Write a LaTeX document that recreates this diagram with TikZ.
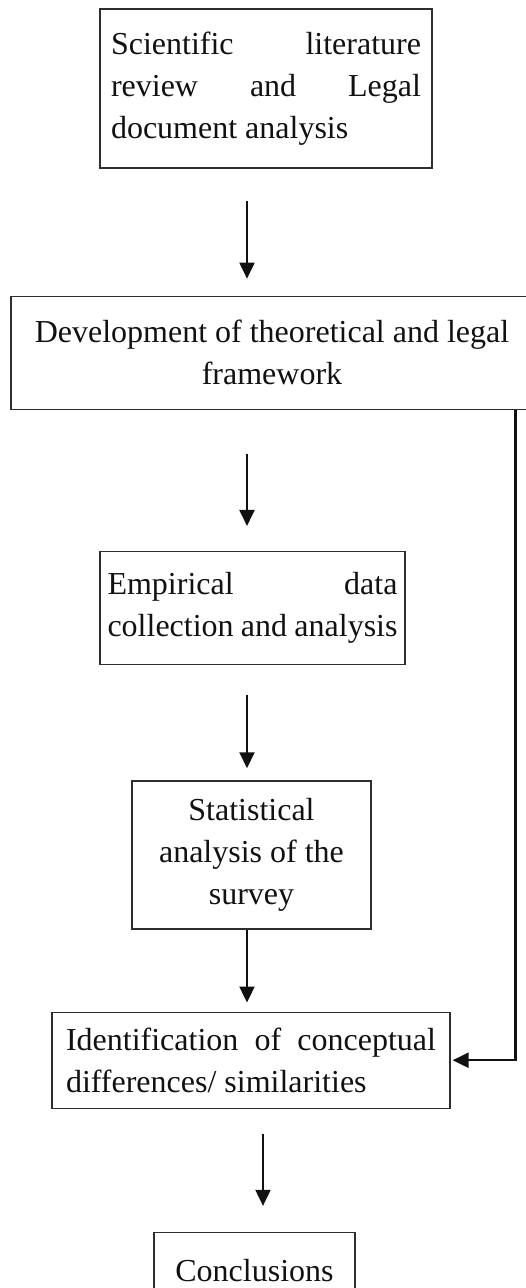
\documentclass[tikz,border=0pt]{standalone}
\usepackage{fontspec}
\setmainfont{Liberation Serif}
\usetikzlibrary{positioning, arrows.meta}
\definecolor{Ink}{HTML}{111111}
\definecolor{Frame}{HTML}{2E2E2E}
\hyphenpenalty=10000
\exhyphenpenalty=10000

\begin{document}
\begin{tikzpicture}[
    x=1pt, y=1pt,
    stage/.style={draw=Frame, line width=1.3pt, inner ysep=0pt, text=Ink, font=\fontsize{32}{42}\selectfont},
    arr/.style={-{Triangle[length=16pt, width=15pt]}, line width=2pt, color=Ink}
]
\useasboundingbox (0,-1288) rectangle (525,0);

% Stages, top to bottom
\node[stage, text width=310pt, inner xsep=11pt, minimum height=159pt, align=justify] (lit) at (266,-88.5) {Scientific literature review and Legal document analysis};
\node[stage, text width=500pt, inner xsep=11pt, minimum height=113pt, align=flush center, below=127pt of lit, xshift=6pt] (dev) {Development of theoretical and legal framework};
\node[stage, text width=290pt, inner xsep=7.5pt, minimum height=113pt, align=justify, below=141pt of dev, xshift=-19.5pt] (emp) {Empirical data collection and analysis};
\node[stage, text width=215pt, inner xsep=12pt, minimum height=148pt, align=flush center, below=115pt of emp, xshift=-1pt] (stat) {Statistical analysis of the survey};
\node[stage, text width=370pt, inner xsep=14pt, minimum height=96pt, align=justify, below=82pt of stat, xshift=-0.5pt] (ident) {Identification of conceptual differences/ similarities};
\node[stage, minimum width=201pt, minimum height=61pt, text height=37pt, text depth=0pt, below=123pt of ident, xshift=3.5pt] (concl) {Conclusions};

% Arrow columns
\coordinate (axis) at (247,0);
\coordinate (axisb) at (263,0);

% Connectors
\draw[arr, shorten <=32pt, shorten >=17pt] (lit.south -| axis) -- (dev.north -| axis);
\draw[arr, shorten <=44pt, shorten >=25pt] (dev.south -| axis) -- (emp.north -| axis);
\draw[arr, shorten <=30pt, shorten >=12pt] (emp.south -| axis) -- (stat.north -| axis);
\draw[arr, shorten >=9pt] (stat.south -| axis) -- (ident.north -| axis);
\draw[arr, shorten <=25pt, shorten >=26pt] (ident.south -| axisb) -- (concl.north -| axisb);

% Side link
\draw[arr, line width=2.4pt, shorten >=2pt] ([xshift=-18pt]dev.south east) |- (ident.east);

\end{tikzpicture}
\end{document}
